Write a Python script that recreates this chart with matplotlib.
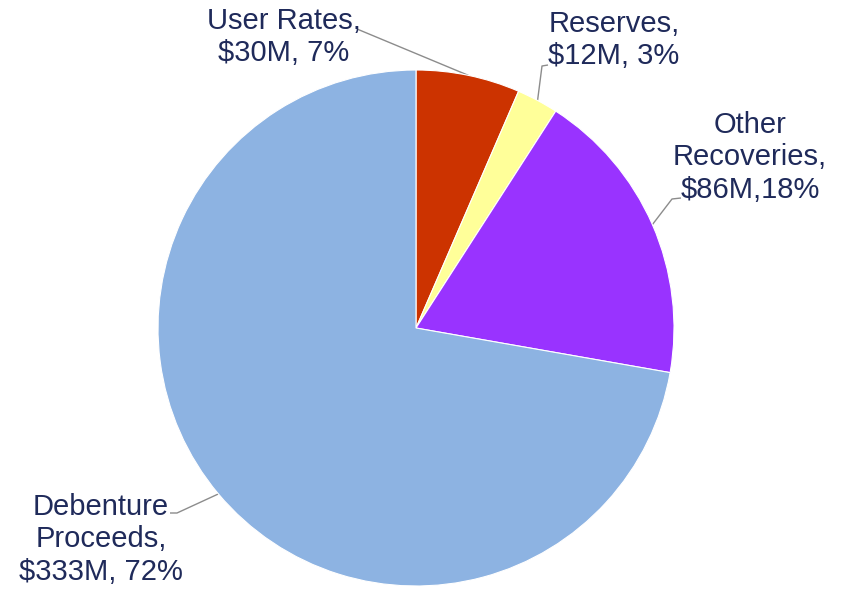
import numpy as np
import matplotlib
matplotlib.use("Agg")
import matplotlib.pyplot as plt

# Funding sources ($M)
categories = ["User Rates", "Reserves", "Other Recoveries", "Debenture Proceeds"]
values = [30, 12, 86, 333]
percent_labels = ["7%", "3%", "18%", "72%"]
label_texts = [
    "User Rates,\n$30M, 7%",
    "Reserves,\n$12M, 3%",
    "Other\nRecoveries,\n$86M,18%",
    "Debenture\nProceeds,\n$333M, 72%",
]
colors = ["#CC3300", "#FFFF99", "#9933FF", "#8DB3E2"]

W, H = 846, 590
fig = plt.figure(figsize=(W / 100, H / 100), dpi=100)
ax = fig.add_axes([0, 0, 1, 1])

cx, cy, R = 416, H - 328, 258
wedges, _ = ax.pie(values, colors=colors, startangle=90, counterclock=False,
                   center=(cx, cy), radius=R, frame=True,
                   wedgeprops=dict(edgecolor="white", linewidth=0.8))
ax.set_xlim(0, W)
ax.set_ylim(0, H)
ax.set_aspect("equal")
ax.axis("off")

text_color = "#1F2A5A"
font = dict(family=["Liberation Sans", "DejaVu Sans"], size=21, color=text_color)

# label anchor (x, y top) in pixel space and leader elbow/end points
label_pos = [(284, 7), (614, 10), (750, 111), (101, 493)]
leader_ends = [[(357, 29)],
               [(542, 66), (548, 65)],
               [(672, 199), (681, 198)],
               [(177, 513), (170, 513)]]

for w, txt, (lx, ly), ends in zip(wedges, label_texts, label_pos, leader_ends):
    ang = np.deg2rad((w.theta1 + w.theta2) / 2)
    px, py = cx + R * np.cos(ang), cy + R * np.sin(ang)
    xs = [px] + [e[0] for e in ends]
    ys = [py] + [H - e[1] for e in ends]
    ax.plot(xs, ys, color="#8C8C8C", lw=1.0, zorder=0.5, solid_capstyle="butt")
    ax.text(lx, H - ly, txt, ha="center", va="top", linespacing=1.2, **font)

fig.savefig("out.png", dpi=100)
